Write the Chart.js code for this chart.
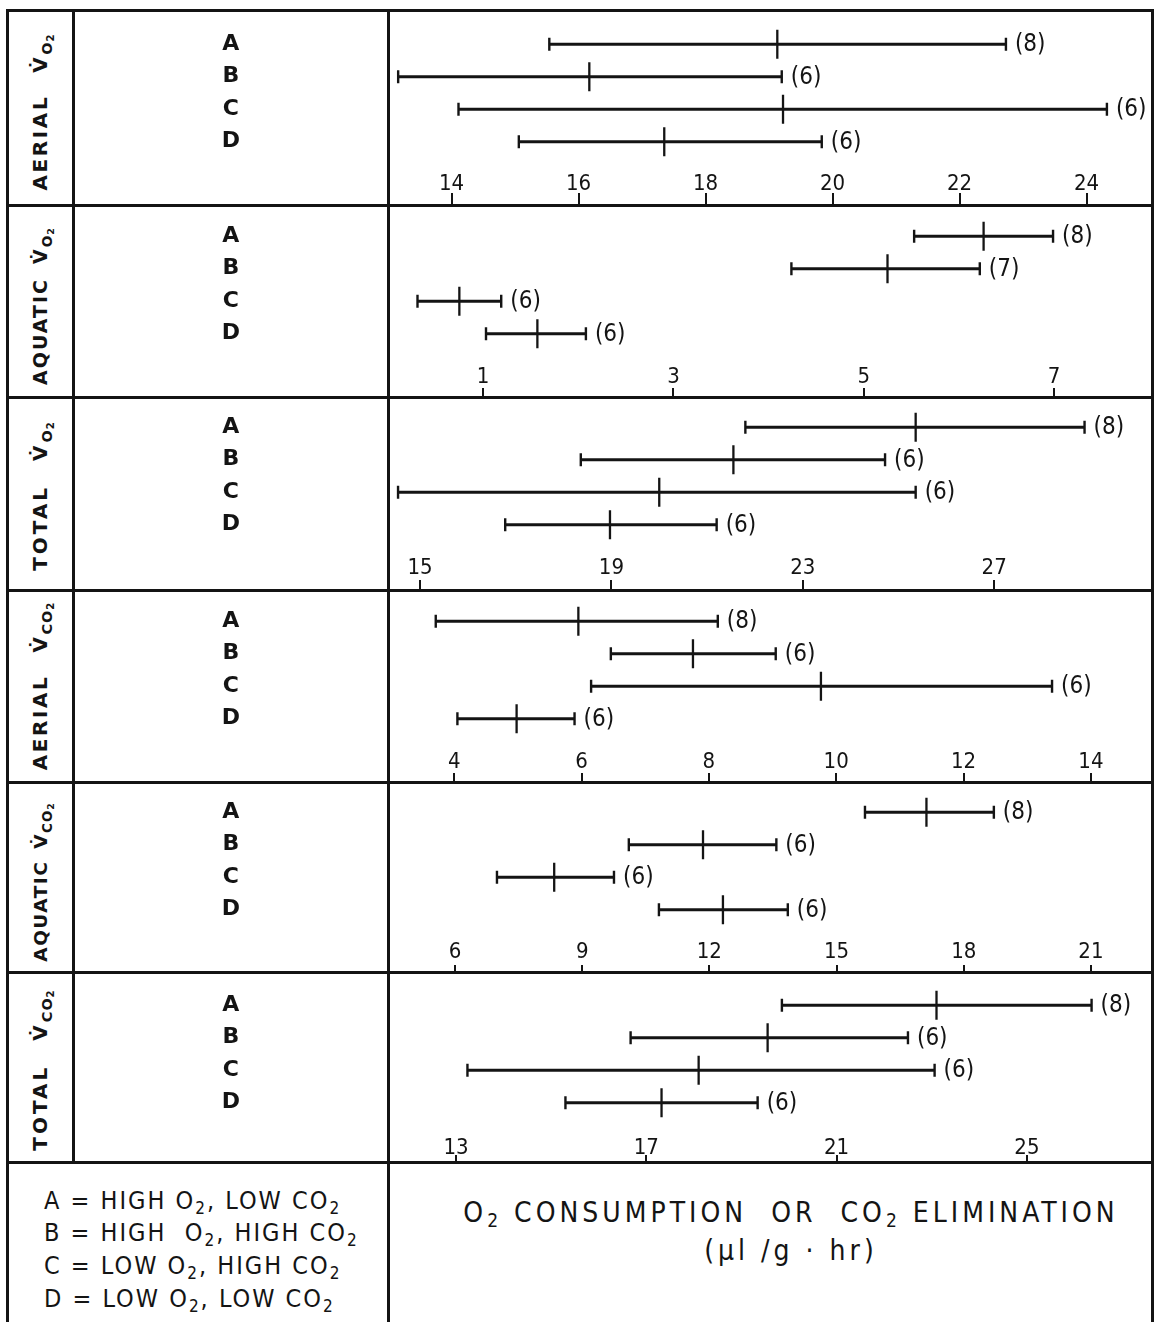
<!DOCTYPE html>
<html>
<head>
<meta charset="utf-8">
<script src="https://cdn.jsdelivr.net/npm/chart.js@4/dist/chart.umd.min.js"></script>
<style>
  html, body { margin: 0; padding: 0; background: #fff; }
  #sheet { position: relative; width: 1164px; height: 1322px; overflow: hidden; background: #fff; color: #141414;
           font-family: 'DejaVu Sans', sans-serif; }
  .rule { position: absolute; background: #141414; z-index: 3; }
  canvas.panel { position: absolute; z-index: 1; }
  .side { position: absolute; left: 40px; transform: translate(-50%, -50%) rotate(-90deg); white-space: nowrap;
          font-weight: bold; z-index: 2; }
  .side .gap { display: inline-block; }
  .side .s1 { font-size: 0.72em; position: relative; top: 0.35em; letter-spacing: 1px; }
  .side .s2 { font-size: 0.7em; position: relative; top: 0.2em; }
  .narrow { font-family: 'Liberation Sans Narrow', 'DejaVu Sans Condensed', sans-serif; }
  .key { position: absolute; left: 44px; font-size: 25px; letter-spacing: 2px; white-space: nowrap;
         transform: translateY(-50%); z-index: 2; }
  .key sub, .title sub { font-size: 0.68em; vertical-align: -0.3em; line-height: 0; }
  .title { position: absolute; left: 791px; transform: translate(-50%, -50%); font-size: 28px; letter-spacing: 4px;
           white-space: nowrap; z-index: 2; }
</style>
</head>
<body>
<div id="sheet"></div>
<script>
// Treatment groups shown on every panel
const groups = ['A', 'B', 'C', 'D'];

// Aerial O2 uptake
const aerialO2Low  = [15.54, 13.16, 14.11, 15.06];
const aerialO2Mean = [19.13, 16.17, 19.22, 17.35];
const aerialO2High = [22.73, 19.20, 24.32, 19.83];
const aerialO2N    = [8, 6, 6, 6];
const aerialO2Ticks = [14, 16, 18, 20, 22, 24];

// Aquatic O2 uptake
const aquaticO2Low  = [5.53, 4.24, 0.31, 1.03];
const aquaticO2Mean = [6.26, 5.25, 0.75, 1.57];
const aquaticO2High = [6.99, 6.22, 1.19, 2.08];
const aquaticO2N    = [8, 7, 6, 6];
const aquaticO2Ticks = [1, 3, 5, 7];

// Total O2 uptake
const totalO2Low  = [21.80, 18.36, 14.54, 16.78];
const totalO2Mean = [25.36, 21.55, 20.00, 18.97];
const totalO2High = [28.89, 24.72, 25.36, 21.20];
const totalO2N    = [8, 6, 6, 6];
const totalO2Ticks = [15, 19, 23, 27];

// Aerial CO2 elimination
const aerialCO2Low  = [3.71, 6.46, 6.15, 4.05];
const aerialCO2Mean = [5.95, 7.75, 9.76, 4.98];
const aerialCO2High = [8.14, 9.05, 13.39, 5.89];
const aerialCO2N    = [8, 6, 6, 6];
const aerialCO2Ticks = [4, 6, 8, 10, 12, 14];

// Aquatic CO2 elimination
const aquaticCO2Low  = [15.67, 10.10, 6.99, 10.81];
const aquaticCO2Mean = [17.12, 11.85, 8.34, 12.32];
const aquaticCO2High = [18.71, 13.58, 9.75, 13.85];
const aquaticCO2N    = [8, 6, 6, 6];
const aquaticCO2Ticks = [6, 9, 12, 15, 18, 21];

// Total CO2 elimination
const totalCO2Low  = [19.85, 16.67, 13.24, 15.30];
const totalCO2Mean = [23.10, 19.55, 18.10, 17.32];
const totalCO2High = [26.36, 22.50, 23.06, 19.34];
const totalCO2N    = [8, 6, 6, 6];
const totalCO2Ticks = [13, 17, 21, 25];

const INK = '#141414';
const NARROW = "'Liberation Sans Narrow', 'DejaVu Sans Condensed', sans-serif";

const VO2 = 'V&#775;<span class="s1">O<span class="s2">2</span></span>';
const VCO2 = 'V&#775;<span class="s1">CO<span class="s2">2</span></span>';

const panels = [
  { word: 'AERIAL',  rate: VO2,  low: aerialO2Low,   mean: aerialO2Mean,   high: aerialO2High,   n: aerialO2N,   ticks: aerialO2Ticks,   min: 13.0,  max: 25.03 },
  { word: 'AQUATIC', rate: VO2,  low: aquaticO2Low,  mean: aquaticO2Mean,  high: aquaticO2High,  n: aquaticO2N,  ticks: aquaticO2Ticks,  min: 0.0,   max: 8.03 },
  { word: 'TOTAL',   rate: VO2,  low: totalO2Low,    mean: totalO2Mean,    high: totalO2High,    n: totalO2N,    ticks: totalO2Ticks,    min: 14.33, max: 30.30 },
  { word: 'AERIAL',  rate: VCO2, low: aerialCO2Low,  mean: aerialCO2Mean,  high: aerialCO2High,  n: aerialCO2N,  ticks: aerialCO2Ticks,  min: 2.96,  max: 14.96 },
  { word: 'AQUATIC', rate: VCO2, low: aquaticCO2Low, mean: aquaticCO2Mean, high: aquaticCO2High, n: aquaticCO2N, ticks: aquaticCO2Ticks, min: 4.42,  max: 22.44 },
  { word: 'TOTAL',   rate: VCO2, low: totalCO2Low,   mean: totalCO2Mean,   high: totalCO2High,   n: totalCO2N,   ticks: totalCO2Ticks,   min: 11.57, max: 27.63 }
];

// Per-panel layout: plot-area top, tick-label centre, side-label font/spacing/gap/shift
const panelLayout = [
  { areaTop: 18, labelY: 172, font: 20, spacing: 2.6, gap: 22, shift: 4 },
  { areaTop: 15, labelY: 170, font: 19, spacing: 2.0, gap: 14, shift: 5 },
  { areaTop: 14, labelY: 169, font: 20, spacing: 3.0, gap: 24, shift: 2 },
  { areaTop: 15, labelY: 170, font: 20, spacing: 2.6, gap: 22, shift: 0 },
  { areaTop: 14, labelY: 168, font: 18.5, spacing: 1.5, gap: 12, shift: 5 },
  { areaTop: 17, labelY: 174, font: 20, spacing: 3.0, gap: 24, shift: 3 }
];

// Table geometry
const rowLines = [10, 205, 397, 590, 782, 972, 1162];
const colLeft = 7, colName = 73, colPlot = 388, colRight = 1152;
const AREA_H = 130;
const sheet = document.getElementById('sheet');

function rule(x, y, w, h) {
  const d = document.createElement('div');
  d.className = 'rule';
  Object.assign(d.style, { left: x + 'px', top: y + 'px', width: w + 'px', height: h + 'px' });
  sheet.appendChild(d);
}

// Outer frame and cell dividers
rule(colLeft - 1, rowLines[0] - 1, colRight - colLeft + 3, 3);
rule(colLeft - 1, rowLines[0] - 1, 3, 1322 - rowLines[0] + 1);
rule(colRight - 1, rowLines[0] - 1, 3, 1322 - rowLines[0] + 1);
rule(colName - 1, rowLines[0], 2.5, rowLines[6] - rowLines[0]);
rule(colPlot - 1, rowLines[0], 2.5, 1322 - rowLines[0]);
for (let i = 1; i < rowLines.length; i++) rule(colLeft, rowLines[i] - 1, colRight - colLeft, 2.5);

// Sample-size labels at the right end of each range
function countLabels(p) {
  return {
    id: 'countLabels',
    afterDatasetsDraw(chart) {
      const { ctx, scales: { x, y } } = chart;
      ctx.save();
      ctx.font = '24px ' + NARROW;
      ctx.fillStyle = INK;
      ctx.textAlign = 'left';
      ctx.textBaseline = 'middle';
      p.n.forEach((n, i) => {
        ctx.fillText('(' + n + ')', x.getPixelForValue(p.high[i]) + 9, y.getPixelForValue(i) + 1);
      });
      ctx.restore();
    }
  };
}

// Axis boxes keep only their own size; no extra edge padding is passed to the layout
const noEdgePadding = s => { s.paddingTop = s.paddingBottom = s.paddingLeft = s.paddingRight = 0; };

function drawPanel(p, L, top, height) {
  const side = document.createElement('div');
  side.className = 'side';
  side.style.fontSize = L.font + 'px';
  side.style.letterSpacing = L.spacing + 'px';
  side.innerHTML = p.word + '<span class="gap" style="width:' + L.gap + 'px"></span>' + p.rate;
  side.style.top = (top + height / 2 + L.shift) + 'px';
  sheet.appendChild(side);

  const canvas = document.createElement('canvas');
  canvas.className = 'panel';
  const left = colName + 1;
  canvas.width = colRight - left;
  canvas.height = height;
  Object.assign(canvas.style, { left: left + 'px', top: top + 'px', width: canvas.width + 'px', height: height + 'px' });
  sheet.appendChild(canvas);

  const markLen = height - 183;
  const labelBox = height - L.areaTop - AREA_H - markLen;
  const labelPad = L.labelY + 2 - (L.areaTop + AREA_H) - 13.2;
  const fixTicks = scale => { scale.ticks = p.ticks.map(v => ({ value: v })); };
  const point = (v, i) => ({ x: v, y: groups[i] });

  new Chart(canvas, {
    type: 'bar',
    data: {
      labels: groups,
      datasets: [
        { type: 'bar', indexAxis: 'y', data: p.low.map((v, i) => [v, p.high[i]]),
          backgroundColor: INK, borderWidth: 0, barThickness: 2.5 },
        { type: 'scatter', data: p.low.map(point).concat(p.high.map(point)),
          pointStyle: 'line', rotation: 90, pointRadius: 6.5, borderColor: INK, borderWidth: 2.4 },
        { type: 'scatter', data: p.mean.map(point),
          pointStyle: 'line', rotation: 90, pointRadius: 14.5, borderColor: INK, borderWidth: 2.3 }
      ]
    },
    options: {
      responsive: false,
      animation: false,
      events: [],
      layout: { autoPadding: false, padding: { top: L.areaTop, right: 0, left: 0, bottom: 0 } },
      plugins: { legend: { display: false }, tooltip: { enabled: false } },
      scales: {
        y: {
          type: 'category', position: 'left', offset: true,
          grid: { display: false, drawTicks: false, offset: true }, border: { display: false },
          ticks: { color: INK, font: { family: "'DejaVu Sans', sans-serif", size: 22, weight: 'bold' },
                   crossAlign: 'center', padding: 148 },
          afterFit: s => { s.width = colPlot - left; noEdgePadding(s); }
        },
        x: {
          type: 'linear', position: 'bottom', weight: 0, min: p.min, max: p.max, beginAtZero: false, offset: false,
          grid: { display: false, drawTicks: false, offset: false }, border: { display: false },
          afterBuildTicks: fixTicks,
          ticks: { color: INK, font: { family: NARROW, size: 22 }, padding: labelPad, maxRotation: 0, minRotation: 0,
                   autoSkip: false, callback: v => String(v) },
          afterFit: s => { s.height = labelBox; noEdgePadding(s); }
        },
        x2: {
          type: 'linear', position: 'bottom', weight: 1, min: p.min, max: p.max, beginAtZero: false, offset: false,
          grid: { drawOnChartArea: false, drawTicks: true, tickLength: markLen, color: INK, lineWidth: 2, offset: false },
          border: { display: false },
          afterBuildTicks: fixTicks,
          ticks: { display: false },
          afterFit: s => { s.height = markLen; noEdgePadding(s); }
        }
      }
    },
    plugins: [countLabels(p)]
  });
}

panels.forEach((p, i) => drawPanel(p, panelLayout[i], rowLines[i], rowLines[i + 1] - rowLines[i]));

// Key to the treatment groups
const keyLines = [
  'A = HIGH O<sub>2</sub>, LOW CO<sub>2</sub>',
  'B = HIGH&nbsp; O<sub>2</sub>, HIGH CO<sub>2</sub>',
  'C = LOW O<sub>2</sub>, HIGH CO<sub>2</sub>',
  'D = LOW O<sub>2</sub>, LOW CO<sub>2</sub>'
];
[1200, 1232, 1265, 1298].forEach((y, i) => {
  const d = document.createElement('div');
  d.className = 'key narrow';
  d.style.top = y + 'px';
  d.innerHTML = keyLines[i];
  sheet.appendChild(d);
});

// Shared axis title
[['O<sub>2</sub> CONSUMPTION&nbsp; OR&nbsp; CO<sub>2</sub> ELIMINATION', 1212], ['(&mu;l /g &middot; hr)', 1250]].forEach(([html, y]) => {
  const d = document.createElement('div');
  d.className = 'title narrow';
  d.style.top = y + 'px';
  d.innerHTML = html;
  sheet.appendChild(d);
});
</script>
</body>
</html>
